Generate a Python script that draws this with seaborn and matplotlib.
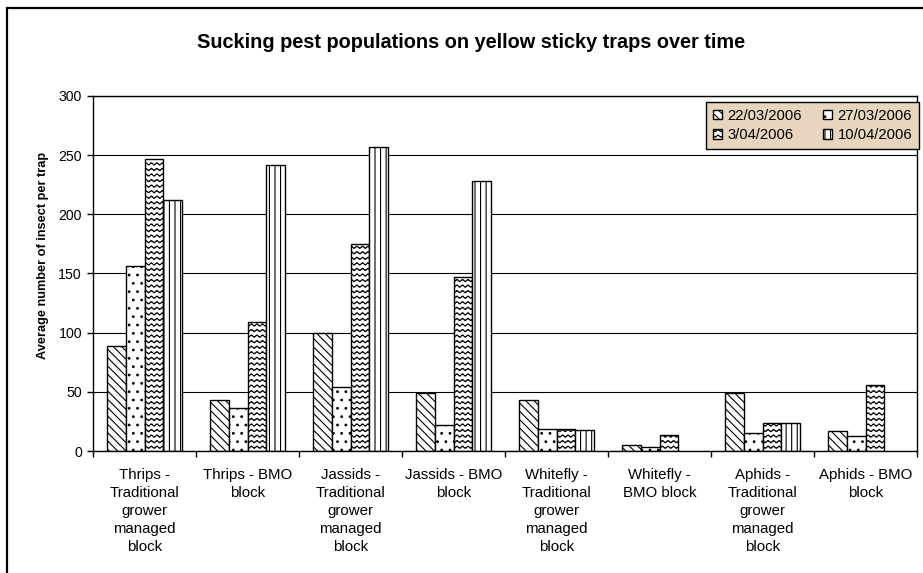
import matplotlib
matplotlib.use('Agg')
import matplotlib.pyplot as plt
import matplotlib.hatch as mhatch
from matplotlib.path import Path
from matplotlib.patches import Rectangle
import seaborn as sb
import pandas as pd
import numpy as np

categories = ['Thrips -\nTraditional\ngrower\nmanaged\nblock', 'Thrips - BMO\nblock',
              'Jassids -\nTraditional\ngrower\nmanaged\nblock', 'Jassids - BMO\nblock',
              'Whitefly -\nTraditional\ngrower\nmanaged\nblock', 'Whitefly -\nBMO block',
              'Aphids -\nTraditional\ngrower\nmanaged\nblock', 'Aphids - BMO\nblock']
dates = ['22/03/2006', '27/03/2006', '3/04/2006', '10/04/2006']

d_2203 = [89, 43, 100, 49, 43, 5, 49, 17]
d_2703 = [156, 36, 54, 22, 18.5, 3, 15, 13]
d_0304 = [247, 109, 175, 147, 19, 13.5, 24, 56]
d_1004 = [212, 242, 257, 228, 18, np.nan, 24, np.nan]

y_ticks = [0, 50, 100, 150, 200, 250, 300]


class WavyHatch(mhatch.HatchPatternBase):
    '''Wavy rows, used in place of the star hatch ("*").'''
    def __init__(self, hatch, density):
        self.num_lines = int(hatch.count('*') * density)
        self.pts = self.num_lines * 8 + 1
        self.num_vertices = self.num_lines * self.pts

    def set_vertices_and_codes(self, vertices, codes):
        xs = np.linspace(0, 1, self.pts)
        step = 1.0 / self.num_lines
        for i in range(self.num_lines):
            y0 = (i + 0.5) * step
            ys = y0 + 0.2 * step * np.sin(2 * np.pi * self.num_lines * xs)
            sl = slice(i * self.pts, (i + 1) * self.pts)
            vertices[sl, 0] = xs
            vertices[sl, 1] = ys
            codes[sl] = Path.LINETO
            codes[i * self.pts] = Path.MOVETO


mhatch._hatch_types = [t for t in mhatch._hatch_types if t is not mhatch.Stars] + [WavyHatch]

sb.set_style('white')
plt.rcParams['font.family'] = ['Liberation Sans', 'DejaVu Sans']
plt.rcParams['hatch.linewidth'] = 0.8
plt.rcParams['text.color'] = 'black'
plt.rcParams['xtick.color'] = 'black'
plt.rcParams['ytick.color'] = 'black'
plt.rcParams['axes.labelcolor'] = 'black'

df = pd.DataFrame({'block': categories * 4,
                   'date': np.repeat(dates, len(categories)),
                   'count': d_2203 + d_2703 + d_0304 + d_1004}).dropna()

fig = plt.figure(figsize=(9.23, 5.73), dpi=100)
ax = fig.add_axes([0.1008, 0.2129, 0.8927, 0.6196])

sb.barplot(data=df, x='block', y='count', hue='date', order=categories, hue_order=dates,
           palette=['white'] * 4, edgecolor='black', linewidth=1, width=0.73,
           errorbar=None, legend=False, ax=ax)

hatches = [r'\\\\', '..', '***', '|||']
for cont, h in zip(ax.containers, hatches):
    for bar in cont:
        bar.set_hatch(h)

ax.set_ylim(0, 300)
ax.set_xlim(-0.5, 7.5)
ax.set_yticks(y_ticks)
ax.set_xlabel('')
ax.set_ylabel('')
ax.set_axisbelow(True)
ax.yaxis.grid(True, color='black', linewidth=0.8)
for s in ax.spines.values():
    s.set_color('black')
    s.set_linewidth(1)

ax.set_xticks(np.arange(-0.5, 8, 1), minor=True)
ax.tick_params(axis='x', which='major', length=0, pad=12, labelsize=10.8, labelcolor='black')
ax.tick_params(axis='x', which='minor', length=4, width=1, color='black', direction='out', bottom=True)
ax.tick_params(axis='y', length=4, width=1, color='black', direction='out', left=True, pad=4,
               labelsize=10.2, labelcolor='black')
for lab in ax.get_xticklabels():
    lab.set_ha('center')
    lab.set_linespacing(1.36)

conts = ax.containers
leg = ax.legend([conts[0], conts[2], conts[1], conts[3]],
                [dates[0], dates[2], dates[1], dates[3]],
                ncol=2, loc='upper right', bbox_to_anchor=(1.002, 0.983), borderaxespad=0,
                fontsize=10.6, frameon=True, fancybox=False, framealpha=1,
                facecolor='#E8D5BD', edgecolor='black', handlelength=0.65, handleheight=0.65,
                handletextpad=0.35, columnspacing=1.4, labelspacing=0.38, borderpad=0.45)
leg.get_frame().set_linewidth(1)

fig.text(0.5103, 1 - 48.3 / 573, 'Sucking pest populations on yellow sticky traps over time',
         ha='center', va='baseline', fontsize=14.3, fontweight='bold')
fig.text(0.0463, 1 - 255.4 / 573, 'Average number of insect per trap', rotation=90,
         ha='center', va='center', fontsize=9.2, fontweight='bold')

fig.patches.append(Rectangle((7.5 / 923, -0.1), 1.2, 1.1 - 8.5 / 573, transform=fig.transFigure,
                             fill=False, edgecolor='black', linewidth=1.6))

fig.savefig('out.png', dpi=100)
